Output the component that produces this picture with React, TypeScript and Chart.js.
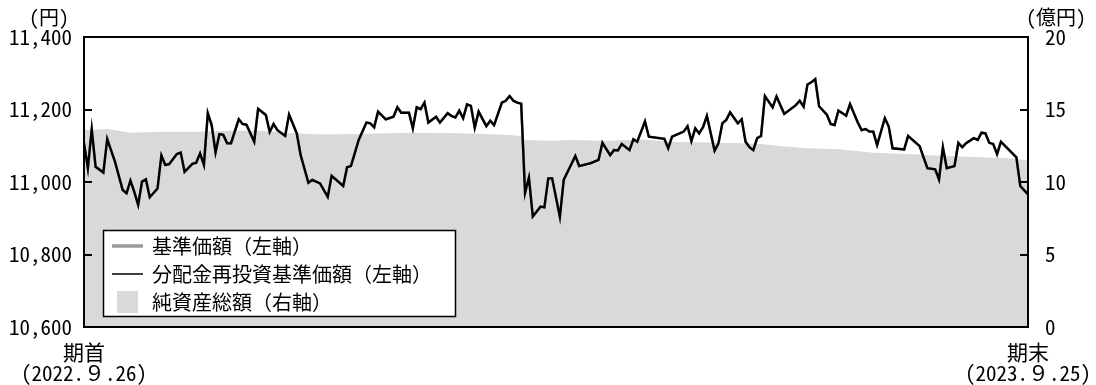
import React, { useEffect, useRef } from "react";
import { Chart, registerables } from "chart.js";

Chart.register(...registerables);

// ---- data ----
const navDays = [
  0, 1, 2, 3, 5, 6, 8, 10, 11, 12, 13, 14, 15, 16, 17, 19, 20, 21, 22, 24, 25, 26, 28, 29, 30, 31, 32, 33, 34, 35,
  36, 37, 38, 40, 41, 42, 44, 45, 47, 48, 49, 50, 52, 53, 55, 56, 58, 59, 61, 63, 64, 67, 68, 69, 71, 73, 74, 75,
  76, 78, 80, 81, 82, 84, 85, 86, 87, 88, 89, 91, 92, 94, 95, 96, 97, 98, 99, 100, 101, 102, 104, 105, 106, 108,
  109, 110, 111, 112, 113, 114, 115, 116, 118, 119, 120, 121, 123, 124, 127, 128, 131, 133, 134, 136, 137, 138,
  139, 141, 142, 143, 145, 146, 150, 151, 152, 155, 156, 157, 158, 159, 160, 161, 163, 164, 165, 166, 167, 169,
  170, 171, 172, 173, 174, 175, 176, 178, 179, 180, 181, 184, 185, 186, 187, 188, 189, 190, 192, 193, 194, 195,
  197, 198, 200, 201, 202, 203, 204, 205, 207, 208, 209, 212, 213, 216, 217, 218, 220, 221, 222, 223, 225, 226,
  227, 228, 230, 231, 232, 233, 234, 235, 236, 237, 241, 242, 244,
];
const navReinvested = [
  11107, 11038, 11145, 11042, 11026, 11118, 11056, 10978, 10969, 11004, 10973, 10937, 11001, 11007, 10958, 10982,
  11073, 11047, 11049, 11077, 11081, 11028, 11050, 11053, 11079, 11047, 11190, 11157, 11082, 11132, 11130, 11107,
  11107, 11173, 11160, 11158, 11111, 11202, 11185, 11138, 11160, 11143, 11127, 11186, 11134, 11074, 10998, 11006,
  10996, 10959, 11017, 10989, 11041, 11044, 11116, 11164, 11162, 11151, 11194, 11173, 11180, 11206, 11191, 11191,
  11148, 11206, 11201, 11219, 11164, 11180, 11164, 11190, 11182, 11178, 11197, 11176, 11214, 11210, 11150, 11194,
  11154, 11169, 11157, 11219, 11224, 11237, 11224, 11219, 11216, 10970, 11012, 10905, 10932, 10930, 11010, 11010,
  10904, 11006, 11072, 11044, 11052, 11061, 11108, 11074, 11088, 11087, 11105, 11088, 11118, 11111, 11167, 11125,
  11119, 11093, 11125, 11139, 11154, 11113, 11148, 11134, 11151, 11182, 11086, 11107, 11162, 11171, 11192, 11162,
  11173, 11111, 11096, 11088, 11121, 11127, 11237, 11206, 11236, 11212, 11188, 11212, 11224, 11208, 11269, 11275,
  11284, 11209, 11186, 11160, 11157, 11197, 11183, 11215, 11164, 11143, 11146, 11139, 11139, 11102, 11176, 11153,
  11093, 11090, 11127, 11099, 11068, 11038, 11035, 11007, 11096, 11038, 11044, 11108, 11096, 11107, 11121, 11116,
  11136, 11134, 11108, 11105, 11077, 11111, 11068, 10989, 10966,
];
// no distributions in the period: the base NAV coincides with the reinvested NAV
const navBase = navReinvested;

const assetDays = [
  0, 6, 12, 20, 29, 38, 46, 55, 61, 71, 84, 97, 110, 113, 114, 120, 126, 135, 144, 152, 161, 170, 175, 181, 187,
  195, 204, 214, 223, 232, 240, 242, 244,
];
const netAssets = [
  13.59, 13.66, 13.4, 13.47, 13.47, 13.54, 13.54, 13.36, 13.28, 13.31, 13.4, 13.36, 13.24, 13.17, 12.9, 12.85,
  12.9, 12.85, 12.93, 12.78, 12.72, 12.67, 12.62, 12.45, 12.32, 12.26, 12.02, 11.91, 11.79, 11.7, 11.62, 11.55,
  11.47,
];

const leftTicks = [10600, 10800, 11000, 11200, 11400];
const rightTicks = [0, 5, 10, 15, 20];
const firstDay = 0;
const lastDay = 244;
const startLabel = ["期首", "(2022.９.26)"];
const endLabel = ["期末", "(2023.９.25)"];
const seriesLabels = ["基準価額（左軸）", "分配金再投資基準価額（左軸）", "純資産総額（右軸）"];
const leftUnit = "(円)";
const rightUnit = "(億円)";

const FONT = "'Noto Sans Mono CJK JP', 'Noto Sans CJK JP', 'DejaVu Sans Mono', monospace";
const GRAY_LINE = "#9a9a9a";
const AREA = "#d9d9d9";

const decorPlugin = {
  id: "decor",
  afterDatasetsDraw(chart: any) {
    const { ctx, chartArea: a, scales } = chart;
    ctx.save();
    ctx.strokeStyle = "#000";
    ctx.lineWidth = 2;
    // inward tick marks
    for (const v of leftTicks) {
      const py = Math.round(scales.y.getPixelForValue(v));
      ctx.beginPath();
      ctx.moveTo(a.left, py);
      ctx.lineTo(a.left + 8, py);
      ctx.stroke();
    }
    for (const v of rightTicks) {
      const py = Math.round(scales.y2.getPixelForValue(v));
      ctx.beginPath();
      ctx.moveTo(a.right, py);
      ctx.lineTo(a.right - 8, py);
      ctx.stroke();
    }
    // frame
    ctx.strokeRect(a.left, a.top, a.right - a.left, a.bottom - a.top);

    // legend
    const ds = chart.data.datasets;
    const bx = 103.5, by = 230.5, bw = 352, bh = 86;
    ctx.fillStyle = "#fff";
    ctx.fillRect(bx, by, bw, bh);
    ctx.lineWidth = 1.5;
    ctx.strokeRect(bx, by, bw, bh);
    ctx.font = `20px ${FONT}`;
    ctx.textBaseline = "middle";
    ctx.textAlign = "left";
    for (let i = 0; i < ds.length; i++) {
      const cy = 246 + 28 * i;
      if (i < 2) {
        ctx.strokeStyle = ds[i].borderColor;
        ctx.lineWidth = i === 0 ? 3.5 : 1.5;
        ctx.beginPath();
        ctx.moveTo(112, cy);
        ctx.lineTo(143, cy);
        ctx.stroke();
      } else {
        ctx.fillStyle = ds[i].backgroundColor;
        ctx.fillRect(117, cy - 11, 21, 22);
      }
      ctx.fillStyle = "#000";
      ctx.fillText(ds[i].label, 152, cy);
    }

    // unit labels
    ctx.font = `20px ${FONT}`;
    ctx.textAlign = "center";
    ctx.fillStyle = "#000";
    ctx.fillText(leftUnit, 49, 17);
    ctx.fillText(rightUnit, 1056, 17);

    // period start / end labels under the x axis
    ctx.font = `21px ${FONT}`;
    const items: [number, string[]][] = [
      [firstDay, startLabel],
      [lastDay, endLabel],
    ];
    for (const [d, lines] of items) {
      const px = scales.x.getPixelForValue(d);
      lines.forEach((t, k) => ctx.fillText(t, px, a.bottom + 25 + 21 * k));
    }
    ctx.restore();
  },
};

export default function App() {
  const ref = useRef<HTMLCanvasElement | null>(null);

  useEffect(() => {
    document.body.style.margin = "0";
    const canvas = ref.current;
    if (!canvas) return;
    const toXY = (xs: number[], ys: number[]) => xs.map((x, i) => ({ x, y: ys[i] }));
    const chart = new Chart(canvas, {
      type: "line",
      data: {
        datasets: [
          {
            label: seriesLabels[0],
            data: toXY(navDays, navBase),
            borderColor: GRAY_LINE,
            borderWidth: 2.5,
            pointRadius: 0,
            tension: 0,
            yAxisID: "y",
            order: 1,
          },
          {
            label: seriesLabels[1],
            data: toXY(navDays, navReinvested),
            borderColor: "#000000",
            borderWidth: 2.4,
            pointRadius: 0,
            tension: 0,
            yAxisID: "y",
            order: 0,
          },
          {
            label: seriesLabels[2],
            data: toXY(assetDays, netAssets),
            borderColor: AREA,
            backgroundColor: AREA,
            borderWidth: 0,
            pointRadius: 0,
            tension: 0,
            fill: "origin",
            yAxisID: "y2",
            order: 2,
          },
        ],
      },
      options: {
        responsive: false,
        animation: false,
        devicePixelRatio: 1,
        layout: { padding: { left: 0, right: 0, top: 37, bottom: 58 } },
        plugins: { legend: { display: false }, tooltip: { enabled: false } },
        scales: {
          x: {
            type: "linear",
            min: firstDay,
            max: lastDay,
            display: false,
          },
          y: {
            type: "linear",
            position: "left",
            min: 10600,
            max: 11400,
            grid: { display: false, drawTicks: false },
            border: { display: false },
            afterBuildTicks: (s: any) => {
              s.ticks = leftTicks.map((v) => ({ value: v }));
            },
            afterFit: (s: any) => {
              s.width = 84;
            },
            ticks: {
              padding: 12,
              color: "#000",
              font: { family: FONT, size: 21 },
              callback: (v: any) => Number(v).toLocaleString("en-US"),
            },
          },
          y2: {
            type: "linear",
            position: "right",
            min: 0,
            max: 20,
            grid: { display: false, drawTicks: false },
            border: { display: false },
            afterBuildTicks: (s: any) => {
              s.ticks = rightTicks.map((v) => ({ value: v }));
            },
            afterFit: (s: any) => {
              s.width = 68;
            },
            ticks: {
              padding: 17,
              color: "#000",
              font: { family: FONT, size: 21 },
              callback: (v: any) => String(v),
            },
          },
        },
      },
      plugins: [decorPlugin],
    } as any);
    return () => chart.destroy();
  }, []);

  return (
    <div style={{ position: "fixed", left: 0, top: 0, width: 1096, height: 385, background: "#fff" }}>
      <canvas ref={ref} width={1096} height={385} style={{ display: "block", width: 1096, height: 385 }} />
    </div>
  );
}
